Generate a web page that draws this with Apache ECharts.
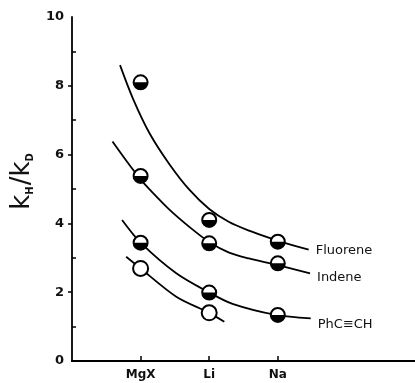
<!DOCTYPE html>
<html>
<head>
<meta charset="utf-8">
<script src="https://cdn.jsdelivr.net/npm/echarts@6/dist/echarts.min.js"></script>
<style>
  html, body { margin: 0; padding: 0; background: #fff; }
  #chart { width: 415px; height: 383px; }
</style>
</head>
<body>
<div id="chart"></div>
<script>
// metal counter-ions on the x axis (positions 1, 2, 3)
var categories = ["MgX", "Li", "Na"];
var yTicks = [0, 2, 4, 6, 8, 10];

// measured kH/kD (half-filled markers)
var fluorene = [8.10, 4.10, 3.47];
var indene = [5.38, 3.42, 2.84];
var phenylacetylene = [3.44, 1.99, 1.34];
// open circles, MgX and Li only
var openPoints = [2.69, 1.40];

// hand drawn curves as [x, kH/kD]
var fluoreneCurve = [[0.70, 8.60], [0.89, 7.62], [1.13, 6.62], [1.42, 5.72], [1.71, 4.98], [2.0, 4.42], [2.29, 4.04], [2.58, 3.79], [2.92, 3.55], [3.16, 3.40], [3.45, 3.24]];
var indeneCurve = [[0.59, 6.38], [0.80, 5.80], [1.0, 5.28], [1.13, 4.99], [1.42, 4.40], [1.71, 3.90], [2.0, 3.46], [2.29, 3.15], [2.58, 2.98], [2.97, 2.80], [3.47, 2.55]];
var phenylCurve = [[0.73, 4.10], [1.0, 3.44], [1.52, 2.55], [2.0, 1.99], [2.34, 1.66], [2.97, 1.34], [3.48, 1.24]];
var openCurve = [[0.79, 3.03], [1.0, 2.69], [1.52, 1.87], [2.0, 1.40], [2.22, 1.14]];

var FONT = "DejaVu Sans";

function toPairs(values) {
  return values.map(function(v, i) {
    return [i + 1, v];
  });
}

// circle, top half white, bottom half black
function halfFilled(params, api) {
  var p = api.coord([api.value(0), api.value(1)]);
  var r = 7;
  return {
    type: "group",
    children: [
      {
        type: "circle",
        shape: { cx: p[0], cy: p[1], r: r },
        style: { fill: "#fff", stroke: "#000", lineWidth: 2 }
      },
      {
        type: "sector",
        shape: { cx: p[0], cy: p[1], r0: 0, r: r, startAngle: 0, endAngle: Math.PI, clockwise: true },
        style: { fill: "#000" }
      }
    ]
  };
}

function curve(name, data, label, dy) {
  return {
    name: name,
    type: "line",
    data: data,
    smooth: 0.3,
    symbol: "none",
    lineStyle: { color: "#000", width: 1.8 },
    z: 2,
    endLabel: {
      show: !!label,
      formatter: label || "",
      distance: 7,
      offset: [0, dy || 0],
      color: "#111",
      fontFamily: FONT,
      fontSize: 13
    }
  };
}

var chart = echarts.init(document.getElementById("chart"), null, { renderer: "canvas" });

var option = {
  backgroundColor: "#fff",
  animation: false,
  grid: { left: 72, right: 0, top: 17, bottom: 22 },
  xAxis: [
    {
      type: "value",
      min: 0,
      max: 5,
      axisLine: { show: true, lineStyle: { color: "#000", width: 1.8 } },
      splitLine: { show: false },
      axisTick: {
        show: true,
        inside: true,
        length: 5,
        customValues: [1, 2, 3],
        lineStyle: { color: "#000", width: 1.5 }
      },
      axisLabel: {
        customValues: [1, 2, 3],
        formatter: function(v) { return categories[Math.round(v) - 1] || ""; },
        margin: 8,
        color: "#111",
        fontFamily: FONT,
        fontWeight: "bold",
        fontSize: 12
      }
    },
    {
      // top frame line
      type: "value",
      position: "top",
      min: 0,
      max: 5,
      axisLine: { show: true, lineStyle: { color: "#000", width: 1.8 } },
      axisTick: { show: false },
      axisLabel: { show: false },
      splitLine: { show: false }
    }
  ],
  yAxis: [
    {
      type: "value",
      min: 0,
      max: 10,
      interval: 2,
      name: "{k|k}{s|H}{k|/k}{s|D}",
      nameLocation: "middle",
      nameRotate: 90,
      nameGap: 30,
      nameTextStyle: {
        padding: [0, 0, 0, 16],
        rich: {
          k: { fontFamily: FONT, fontSize: 26, color: "#111", lineHeight: 30, verticalAlign: "bottom" },
          s: { fontFamily: FONT, fontSize: 10, fontWeight: "bold", color: "#111", lineHeight: 30, verticalAlign: "bottom", padding: [0, 1, 0, 0] }
        }
      },
      axisLine: { show: true, lineStyle: { color: "#000", width: 1.8 } },
      splitLine: { show: false },
      axisTick: {
        show: true,
        inside: false,
        length: 4,
        customValues: [2, 4, 6, 8],
        lineStyle: { color: "#000", width: 1.5 }
      },
      axisLabel: {
        customValues: yTicks,
        margin: 8,
        color: "#111",
        fontFamily: FONT,
        fontWeight: "bold",
        fontSize: 13
      }
    },
    {
      // odd-value ticks pointing into the plot
      type: "value",
      position: "left",
      min: 0,
      max: 10,
      interval: 1,
      axisLine: { show: false },
      splitLine: { show: false },
      axisLabel: { show: false },
      axisTick: {
        show: true,
        inside: true,
        length: 4,
        customValues: [1, 3, 5, 7, 9],
        lineStyle: { color: "#000", width: 1.5 }
      }
    }
  ],
  series: [
    curve("Fluorene", fluoreneCurve, "Fluorene", 1),
    curve("Indene", indeneCurve, "Indene", 4),
    curve("PhC\u2261CH", phenylCurve, "PhC\u2261CH", 6),
    curve("open", openCurve, null, 0),
    {
      name: "Fluorene pts",
      type: "custom",
      renderItem: halfFilled,
      data: toPairs(fluorene),
      z: 5
    },
    {
      name: "Indene pts",
      type: "custom",
      renderItem: halfFilled,
      data: toPairs(indene),
      z: 5
    },
    {
      name: "PhCCH pts",
      type: "custom",
      renderItem: halfFilled,
      data: toPairs(phenylacetylene),
      z: 5
    },
    {
      name: "open pts",
      type: "scatter",
      data: toPairs(openPoints),
      symbol: "circle",
      symbolSize: 15,
      itemStyle: { color: "#fff", borderColor: "#000", borderWidth: 2, opacity: 1 },
      z: 5
    }
  ]
};

chart.setOption(option);
</script>
</body>
</html>
